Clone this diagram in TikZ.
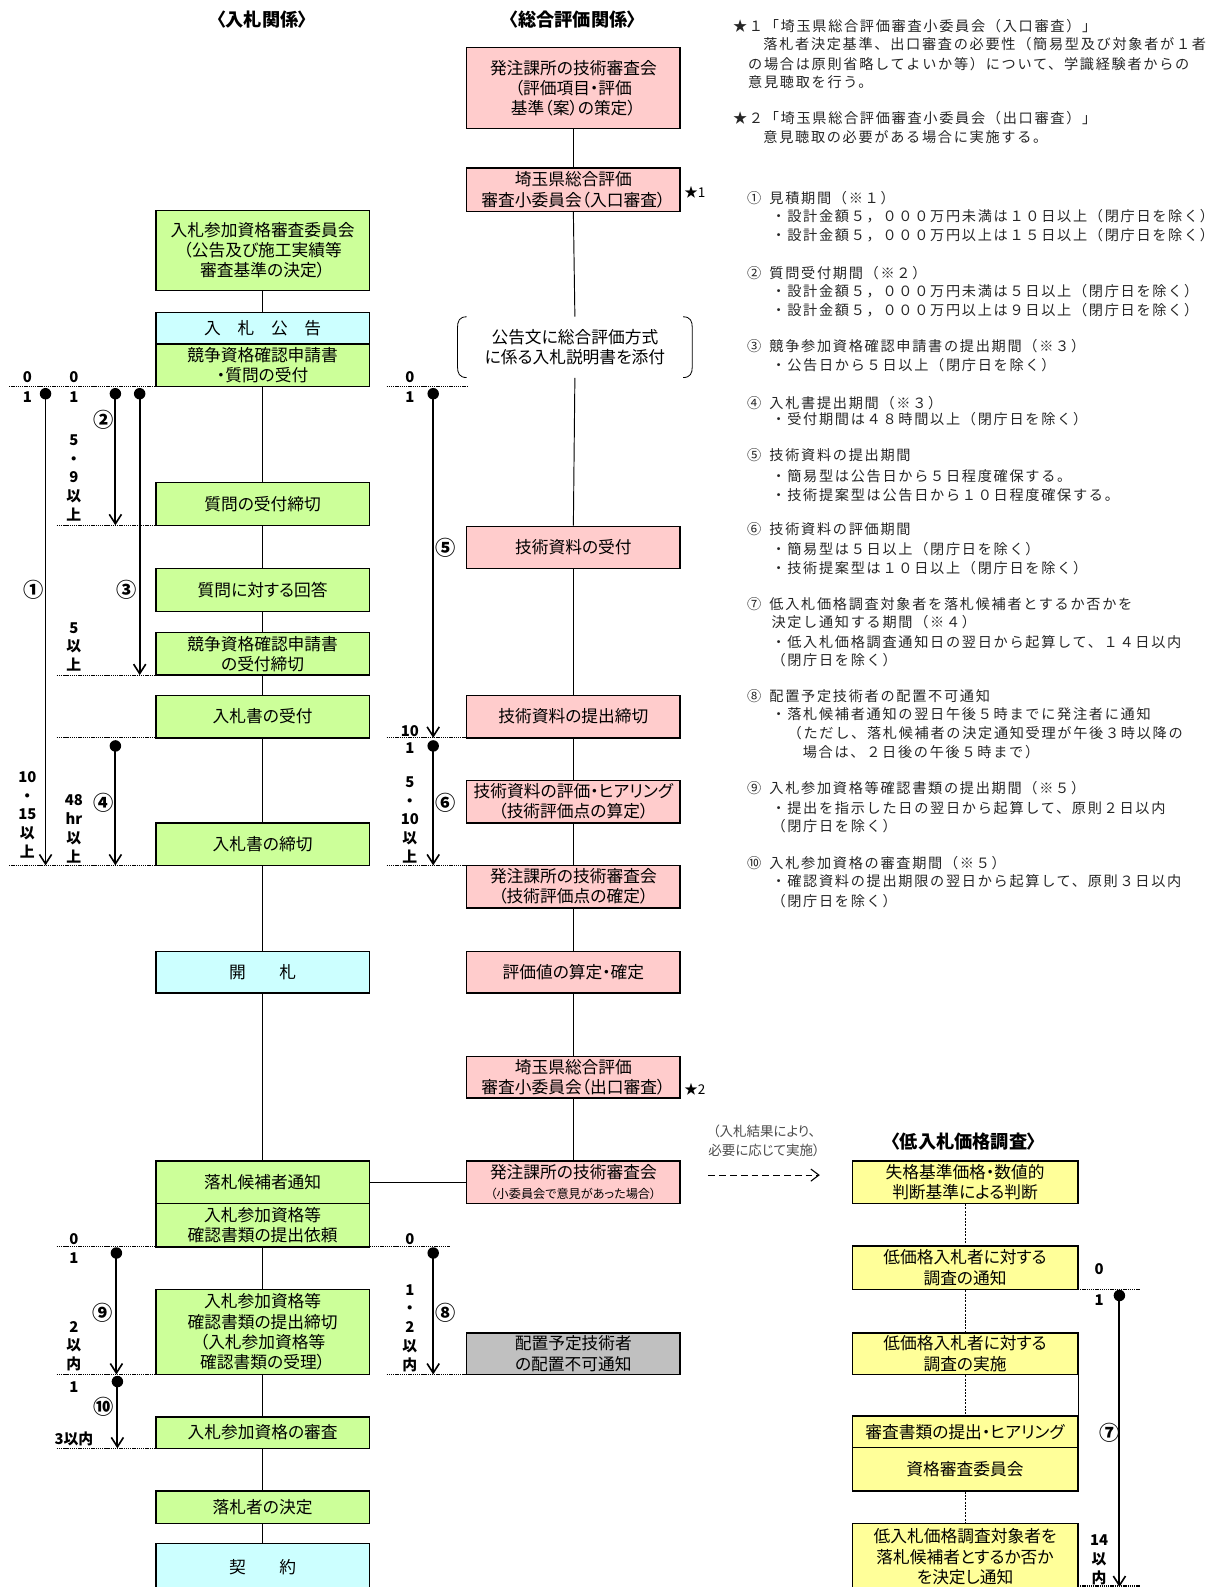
\documentclass[tikz,border=0pt]{standalone}
\usepackage{fontspec}
\setmainfont[RawFeature=+palt]{Noto Sans CJK JP}
\newfontfamily\notefont[LetterSpace=12]{Noto Sans CJK JP}
\usetikzlibrary{arrows.meta,fit}
\definecolor{cpink}{HTML}{FFCCCC}
\definecolor{cgreen}{HTML}{CCFF99}
\definecolor{ccyan}{HTML}{CCFFFF}
\definecolor{cyellow}{HTML}{FFFF99}
\definecolor{cgray}{HTML}{C0C0C0}
\newcommand\boxfnt{\fontsize{12.4pt}{15pt}\selectfont}
\newcommand\numfnt{\bfseries\fontsize{11pt}{13.9pt}\selectfont}
\newcommand\cnumfnt{\bfseries\fontsize{15pt}{16pt}\selectfont}
\newcommand\notefnt{\notefont\fontsize{10.5pt}{13pt}\selectfont}
\newcommand\ttlfnt{\bfseries\fontsize{13.5pt}{16pt}\selectfont}
% box: style, name, x1, y1, x2, y2, text
\newcommand\bx[7]{%
  \node[#1,fit={(#3,#4)(#5,#6)}] (#2) {};
  \node[btxt] (#2t) at (#2.center) {#7};}
\begin{document}
\begin{tikzpicture}[x=0.75pt,y=-0.75pt,
  base/.style={draw=black,line width=1pt,inner sep=0pt},
  gbox/.style={base,fill=cgreen},
  pbox/.style={base,fill=cpink},
  cbox/.style={base,fill=ccyan},
  ybox/.style={base,fill=cyellow},
  xbox/.style={base,fill=cgray},
  nobox/.style={inner sep=0pt},
  btxt/.style={inner sep=0pt,align=center,font=\boxfnt},
  link/.style={line width=0.7pt},
  dlink/.style={line width=0.5pt,dash pattern=on 1.5pt off 1pt},
  tline/.style={line width=0.8pt,dash pattern=on 1pt off 0.6pt},
  tarrow/.style={line width=1.4pt,-{Straight Barb[length=7pt,width=9pt,line width=1.2pt]}},
  tdot/.style={fill=black,circle,inner sep=0pt,minimum size=8.5pt},
  num/.style={font=\numfnt,inner sep=0pt,align=center},
  cnum/.style={font=\cnumfnt,inner sep=0pt},
  note/.style={font=\notefnt,anchor=west,inner sep=0pt,text=black!85},
  ttl/.style={font=\ttlfnt,inner sep=0pt},
  starlbl/.style={font=\fontsize{10pt}{12pt}\selectfont,anchor=west,inner sep=0pt}
]
\useasboundingbox (0,0) rectangle (1205,1568);
\fill[white] (0,0) rectangle (1205,1568);

% titles
\node[ttl] (t1) at (259,19) {〈入札関係〉};
\node[ttl] (t2) at (566,19) {〈総合評価関係〉};
\node[ttl] (t3) at (952,1128) {〈低入札価格調査〉};

% left column
\bx{gbox}{L1}{154}{208}{365}{287}{入札参加資格審査委員会\\（公告及び施工実績等\\審査基準の決定）}
\bx{cbox}{L2a}{154}{309}{365}{340}{入　札　公　告}
\bx{gbox}{L2b}{154}{340}{365}{382}{競争資格確認申請書\\・質問の受付}
\bx{gbox}{L3}{154}{477}{365}{519}{質問の受付締切}
\bx{gbox}{L4}{154}{562}{365}{604}{質問に対する回答}
\bx{gbox}{L5}{154}{625}{365}{667}{競争資格確認申請書\\の受付締切}
\bx{gbox}{L6}{154}{687}{365}{729}{入札書の受付}
\bx{gbox}{L7}{154}{813}{365}{855}{入札書の締切}
\bx{cbox}{L8}{154}{940}{365}{981}{開　　札}
\bx{gbox}{L9a}{154}{1147}{365}{1189}{落札候補者通知}
\bx{gbox}{L9b}{154}{1189}{365}{1232}{入札参加資格等\\確認書類の提出依頼}
\bx{gbox}{L10}{154}{1274}{365}{1358}{入札参加資格等\\確認書類の提出締切\\（入札参加資格等\\確認書類の受理）}
\bx{gbox}{L11}{154}{1400}{365}{1431}{入札参加資格の審査}
\bx{gbox}{L12}{154}{1473}{365}{1505}{落札者の決定}
\bx{cbox}{L13}{154}{1525}{365}{1571}{契　　約}

% middle column
\bx{pbox}{M1}{461}{47}{672}{127}{発注課所の技術審査会\\（評価項目・評価\\基準（案）の策定）}
\bx{pbox}{M2}{461}{166}{672}{209}{埼玉県総合評価\\審査小委員会（入口審査）}
\bx{nobox}{M3}{452}{313}{684}{373}{公告文に総合評価方式\\に係る入札説明書を添付}
\bx{pbox}{M4}{461}{520}{672}{562}{技術資料の受付}
\bx{pbox}{M5}{461}{687}{672}{729}{技術資料の提出締切}
\bx{pbox}{M6}{461}{771}{672}{813}{技術資料の評価・ヒアリング\\（技術評価点の算定）}
\bx{pbox}{M7}{461}{855}{672}{897}{発注課所の技術審査会\\（技術評価点の確定）}
\bx{pbox}{M8}{461}{940}{672}{981}{評価値の算定・確定}
\bx{pbox}{M9}{461}{1044}{672}{1085}{埼玉県総合評価\\審査小委員会（出口審査）}
\bx{pbox}{M10}{461}{1147}{672}{1189}{発注課所の技術審査会\\{\fontsize{9pt}{11pt}\selectfont （小委員会で意見があった場合）}}
\bx{xbox}{M11}{461}{1317}{672}{1358}{配置予定技術者\\の配置不可通知}

\node[starlbl] (s1) at (676,190) {★1};
\node[starlbl] (s2) at (676,1076) {★2};

% bracket box of M3
\draw[line width=0.6pt] (461,313) .. controls (454,313) and (452,317) .. (452,324) -- (452,362) .. controls (452,369) and (454,373) .. (461,373);
\draw[line width=0.6pt] (675,313) .. controls (682,313) and (684,317) .. (684,324) -- (684,362) .. controls (684,369) and (682,373) .. (675,373);

% right column
\bx{ybox}{R1}{842}{1147}{1065}{1189}{失格基準価格・数値的\\判断基準による判断}
\bx{ybox}{R2}{842}{1231}{1065}{1274}{低価格入札者に対する\\調査の通知}
\bx{ybox}{R3}{842}{1317}{1065}{1358}{低価格入札者に対する\\調査の実施}
\bx{ybox}{R4a}{842}{1399}{1065}{1430}{審査書類の提出・ヒアリング}
\bx{ybox}{R4b}{842}{1430}{1065}{1473}{資格審査委員会}
\bx{ybox}{R5}{842}{1505}{1065}{1571}{低入札価格調査対象者を\\落札候補者とするか否か\\を決定し通知}

% connectors
\foreach \a/\b in {L1/L2a,L2b/L3,L3/L4,L4/L5,L5/L6,L6/L7,L7/L8,L8/L9a,L9b/L10,L10/L11,L11/L12,L12/L13,
                   M1/M2,M2/M3,M3/M4,M4/M5,M5/M6,M6/M7,M7/M8,M8/M9,M9/M10}
  \draw[link] (\a.south) -- (\b.north);
\draw[link] (L9a.east) -- (M10.west);
\foreach \a/\b in {R1/R2,R2/R3,R3/R4a,R4b/R5}
  \draw[dlink] (\a.south) -- (\b.north);
\draw[link] (R3.south east) -- (R4a.north east);

% dashed arrow and note
\coordinate (da1) at (700,1161);
\coordinate (da2) at (810,1161);
\draw[line width=0.8pt,dash pattern=on 5pt off 3pt,-{Straight Barb[length=6pt,width=9pt,line width=0.8pt]}] (da1) -- (da2);
\node[inner sep=0pt,align=center,text=black!70,font=\fontsize{10pt}{14pt}\selectfont] (dn) at (755,1127) {（入札結果により、\\必要に応じて実施）};

% time lines (dotted)
\foreach \xa/\xb/\y in {9/154/382,382/461/382,56/154/519,56/154/667,56/154/729,382/461/729,9/154/855,382/461/855,
                        56/154/1232,365/445/1232,56/154/1358,382/461/1358,56/154/1431,1065/1126/1274,1065/1126/1567}
  \draw[tline] (\xa,\y) -- (\xb,\y);

% time arrows
\foreach \n/\x/\ya/\yb in {a1/45/389/855,a2/114/389/519,a3/138/389/667,a4/114/737/855,a5/428/389/729,a6/428/737/855,
                           a9/115/1238/1358,a10/116/1365/1431,a8/428/1238/1358,a7/1106/1280/1568}{
  \coordinate (\n s) at (\x,\ya);
  \coordinate (\n e) at (\x,\yb);
  \draw[tarrow] (\n s) -- (\n e);
  \node[tdot] (\n d) at (\n s) {};
}

% circled labels
\node[cnum] (c1) at (33,583) {①};
\node[cnum] (c2) at (102,415) {②};
\node[cnum] (c3) at (125,583) {③};
\node[cnum] (c4) at (102,793) {④};
\node[cnum] (c5) at (440,541) {⑤};
\node[cnum] (c6) at (440,793) {⑥};
\node[cnum] (c7) at (1096,1416) {⑦};
\node[cnum] (c8) at (440,1297) {⑧};
\node[cnum] (c9) at (101,1297) {⑨};
\node[cnum] (c10) at (102,1390) {⑩};

% day numbers
\node[num] (n1) at (27,373) {0};
\node[num] (n2) at (27,392) {1};
\node[num] (n3) at (73,373) {0};
\node[num] (n4) at (73,392) {1};
\node[num] (n5) at (73,472) {5\\・\\9\\以\\上};
\node[num] (n6) at (73,639) {5\\以\\上};
\node[num] (n7) at (27,805) {10\\・\\15\\以\\上};
\node[num] (n8) at (73,819) {48\\hr\\以\\上};
\node[num] (n9) at (405,373) {0};
\node[num] (n10) at (405,392) {1};
\node[num] (n11) at (405,722) {10};
\node[num] (n12) at (405,739) {1};
\node[num] (n13) at (405,810) {5\\・\\10\\以\\上};
\node[num] (n14) at (73,1224) {0};
\node[num] (n15) at (73,1243) {1};
\node[num] (n16) at (73,1330) {2\\以\\内};
\node[num] (n17) at (73,1370) {1};
\node[num] (n18) at (73,1422) {3以内};
\node[num] (n19) at (405,1224) {0};
\node[num] (n20) at (405,1312) {1\\・\\2\\以\\内};
\node[num] (n21) at (1086,1254) {0};
\node[num] (n22) at (1086,1285) {1};
\node[num] (n23) at (1086,1541) {14\\以\\内};

% notes
\node[note] (k1) at (724,26) {★１「埼玉県総合評価審査小委員会（入口審査）」};
\node[note] (k2) at (754,44) {落札者決定基準、出口審査の必要性（簡易型及び対象者が１者};
\node[note] (k3) at (739,63) {の場合は原則省略してよいか等）について、学識経験者からの};
\node[note] (k4) at (739,81) {意見聴取を行う。};
\node[note] (k5) at (724,117) {★２「埼玉県総合評価審査小委員会（出口審査）」};
\node[note] (k6) at (754,135) {意見聴取の必要がある場合に実施する。};

\node[note] (p1) at (738,196) {①\kern6pt 見積期間（※１）};
\node[note] (p2) at (762,214) {・設計金額５，０００万円未満は１０日以上（閉庁日を除く）};
\node[note] (p3) at (762,232) {・設計金額５，０００万円以上は１５日以上（閉庁日を除く）};
\node[note] (p4) at (738,270) {②\kern6pt 質問受付期間（※２）};
\node[note] (p5) at (762,288) {・設計金額５，０００万円未満は５日以上（閉庁日を除く）};
\node[note] (p6) at (762,306) {・設計金額５，０００万円以上は９日以上（閉庁日を除く）};
\node[note] (p7) at (738,342) {③\kern6pt 競争参加資格確認申請書の提出期間（※３）};
\node[note] (p8) at (762,361) {・公告日から５日以上（閉庁日を除く）};
\node[note] (p9) at (738,398) {④\kern6pt 入札書提出期間（※３）};
\node[note] (p10) at (762,414) {・受付期間は４８時間以上（閉庁日を除く）};
\node[note] (p11) at (738,450) {⑤\kern6pt 技術資料の提出期間};
\node[note] (p12) at (762,470) {・簡易型は公告日から５日程度確保する。};
\node[note] (p13) at (762,489) {・技術提案型は公告日から１０日程度確保する。};
\node[note] (p14) at (738,523) {⑥\kern6pt 技術資料の評価期間};
\node[note] (p15) at (762,543) {・簡易型は５日以上（閉庁日を除く）};
\node[note] (p16) at (762,561) {・技術提案型は１０日以上（閉庁日を除く）};
\node[note] (p17) at (738,597) {⑦\kern6pt 低入札価格調査対象者を落札候補者とするか否かを};
\node[note] (p18) at (762,615) {決定し通知する期間（※４）};
\node[note] (p19) at (762,634) {・低入札価格調査通知日の翌日から起算して、１４日以内};
\node[note] (p20) at (762,652) {（閉庁日を除く）};
\node[note] (p21) at (738,688) {⑧\kern6pt 配置予定技術者の配置不可通知};
\node[note] (p22) at (762,706) {・落札候補者通知の翌日午後５時までに発注者に通知};
\node[note] (p23) at (778,724) {（ただし、落札候補者の決定通知受理が午後３時以降の};
\node[note] (p24) at (793,743) {場合は、２日後の午後５時まで）};
\node[note] (p25) at (738,779) {⑨\kern6pt 入札参加資格等確認書類の提出期間（※５）};
\node[note] (p26) at (762,798) {・提出を指示した日の翌日から起算して、原則２日以内};
\node[note] (p27) at (762,816) {（閉庁日を除く）};
\node[note] (p28) at (738,853) {⑩\kern6pt 入札参加資格の審査期間（※５）};
\node[note] (p29) at (762,871) {・確認資料の提出期限の翌日から起算して、原則３日以内};
\node[note] (p30) at (762,890) {（閉庁日を除く）};
\end{tikzpicture}
\end{document}
